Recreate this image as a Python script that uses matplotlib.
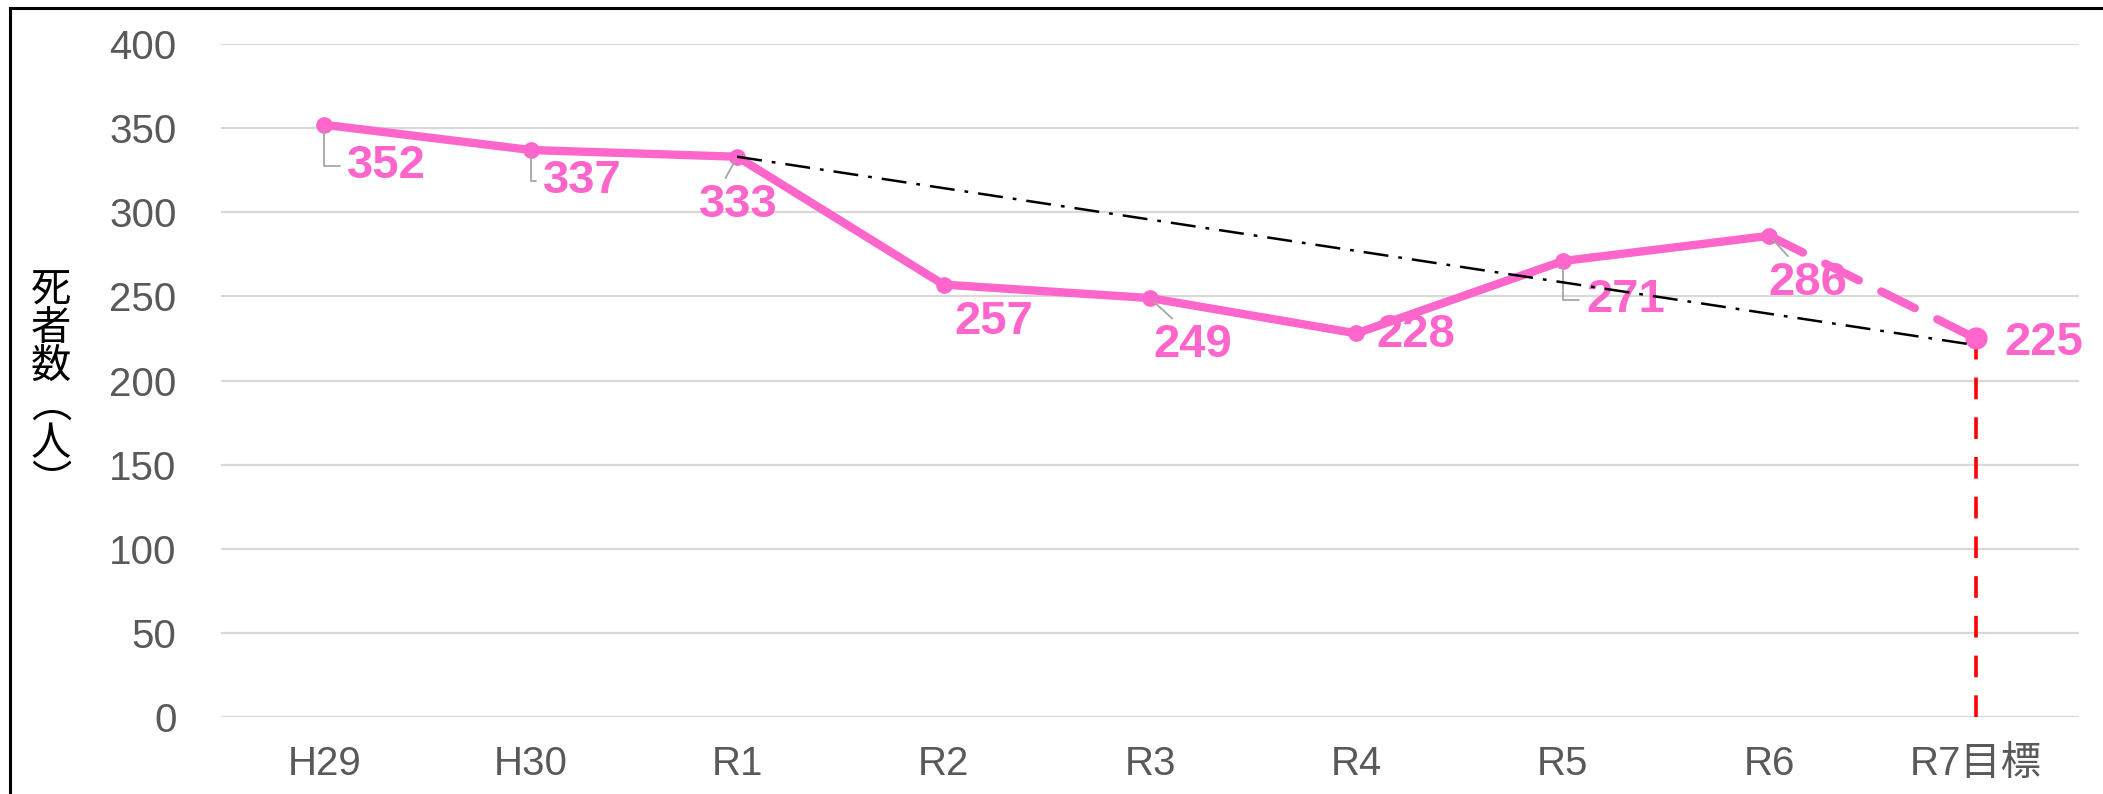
import matplotlib.pyplot as plt
from matplotlib.lines import Line2D
from matplotlib import font_manager

plt.rcParams["font.family"] = ["Liberation Sans", "Noto Sans CJK JP", "DejaVu Sans"]

# Data
categories = ["H29", "H30", "R1", "R2", "R3", "R4", "R5", "R6", "R7目標"]
deaths = [352, 337, 333, 257, 249, 228, 271, 286]   # actual values H29..R6
target = 225                                         # R7 target
trend_x = ["R1", "R7目標"]
trend_values = [333, 221]
y_ticks = [0, 50, 100, 150, 200, 250, 300, 350, 400]

pink = "#FF66CC"
gray_txt = "#595959"
leader_col = "#A6A6A6"

names = {f.name for f in font_manager.fontManager.ttflist}
label_family = "Liberation Sans Narrow" if "Liberation Sans Narrow" in names else "Liberation Sans"
label_size = 38 if label_family == "Liberation Sans Narrow" else 34

fig = plt.figure(figsize=(21.03, 7.94), dpi=100)
ax = fig.add_axes([221 / 2103, 1 - 717 / 794, (2079 - 221) / 2103, (717 - 44) / 794])

xs = list(range(len(categories)))
n = len(deaths)

# grid
ax.set_ylim(0, 400)
ax.set_xlim(-0.5, len(categories) - 0.5)
ax.set_yticks(y_ticks)
ax.yaxis.grid(True, color="#D9D9D9", lw=1.6)
ax.set_axisbelow(True)
for s in ax.spines.values():
    s.set_visible(False)
ax.set_xticks(xs)
ax.set_xticklabels(categories)
ax.tick_params(axis="both", length=0, labelsize=29, labelcolor=gray_txt)
ax.tick_params(axis="y", pad=32)
ax.tick_params(axis="x", pad=20)

# red vertical dashed at target
ax.vlines(xs[-1], 0, target, color="#FF0000", lw=2.6, linestyles=(0, (6, 5)), zorder=2)

# main line
ax.plot(xs[:n], deaths, color=pink, lw=6, marker="o", ms=11, zorder=3,
        solid_capstyle="round")
ax.plot([xs[n - 1], xs[-1]], [deaths[-1], target], color=pink, lw=6,
        dashes=(4.5, 3), dash_capstyle="round", zorder=3)
ax.plot(xs[-1], target, "o", color=pink, ms=15, zorder=3)

# trend line
tx = [categories.index(c) for c in trend_x]
ax.plot(tx, trend_values, color="black", lw=1.8, linestyle=(0, (10, 4, 1.5, 4)), zorder=6)

# labels
values = deaths + [target]
offsets = [(45, -30), (37, -22), (1, -35), (36, -27), (31, -34),
           (43, -1), (45, -28), (28, -34), (49, -3)]
leaders = ["elbow", "elbow", "line", None, "line", None, "elbow", "line", None]
for x, v, off, ld in zip(xs, values, offsets, leaders):
    kw = {}
    if ld == "elbow":
        kw["arrowprops"] = dict(arrowstyle="-", color=leader_col, lw=1.3,
                                connectionstyle="angle,angleA=0,angleB=90,rad=0",
                                relpos=(0, 0.5), shrinkA=3, shrinkB=4)
    elif ld == "line":
        kw["arrowprops"] = dict(arrowstyle="-", color=leader_col, lw=1.3,
                                relpos=(0.3, 1), shrinkA=2, shrinkB=4)
    ax.annotate(str(v), xy=(x, v), xytext=off, textcoords="offset points",
                ha="center", va="center", fontsize=label_size, fontweight="bold",
                family=label_family, color=pink, zorder=4, **kw)

# y label, stacked vertically
fig.text(51 / 2103, 1 - 386 / 794, "死\n者\n数\n︵\n人\n︶", ha="center", va="center",
         fontsize=29, color="black", family=["Noto Sans CJK JP"], linespacing=0.92)

# frame (left and top visible)
fig.add_artist(Line2D([10 / 2103, 10 / 2103], [-0.1, 1 - 8 / 794], color="black", lw=2.2))
fig.add_artist(Line2D([10 / 2103, 1.1], [1 - 8 / 794, 1 - 8 / 794], color="black", lw=2.2))

fig.savefig("out.png", dpi=100)
